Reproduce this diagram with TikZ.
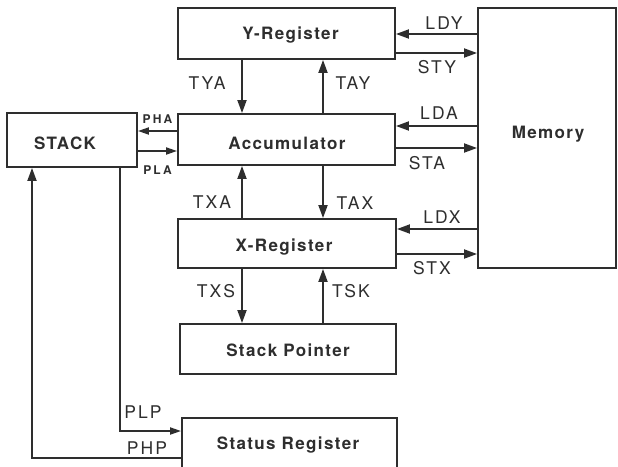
\documentclass[tikz,border=0pt]{standalone}
\usepackage{fontspec}
\setmainfont{TeX Gyre Heros}
\newfontfamily\boxfont{TeX Gyre Heros}[LetterSpace=8]
\newfontfamily\lblfont{TeX Gyre Heros}[LetterSpace=12]
\newfontfamily\smlfont{TeX Gyre Heros}[LetterSpace=18]
\usetikzlibrary{arrows.meta}
\definecolor{ink}{HTML}{2E2E2E}
\tikzset{
  regbox/.style={draw=ink, line width=1.9pt, inner sep=0pt},
  boxtxt/.style={inner sep=0pt, text=ink, font=\boxfont\bfseries\fontsize{17}{17}\selectfont, text height=12.2pt, text depth=0pt},
  lbl/.style={inner sep=0pt, text=ink, font=\lblfont\fontsize{17.5}{17.5}\selectfont, text height=12.6pt, text depth=0pt},
  sml/.style={inner sep=0pt, text=ink, font=\smlfont\bfseries\fontsize{12}{12}\selectfont, text height=8.6pt, text depth=0pt},
  conn/.style={draw=ink, line width=1.9pt, -{Triangle[length=13pt,width=9pt]}},
  sconn/.style={draw=ink, line width=1.9pt, -{Triangle[length=11pt,width=7pt]}}
}
\begin{document}
\begin{tikzpicture}[x=1pt,y=-1pt]
\useasboundingbox (0,0) rectangle (618,466);
\clip (0,0) rectangle (618,466);
\fill[white] (0,0) rectangle (618,466);

% boxes
\node[regbox, minimum width=217pt, minimum height=51pt] (Y)  at (286.5,33.5) {};
\node[regbox, minimum width=217pt, minimum height=51pt] (A)  at (286.5,139.5) {};
\node[regbox, minimum width=218pt, minimum height=49pt] (X)  at (287,243.5) {};
\node[regbox, minimum width=216pt, minimum height=50pt] (SP) at (288,349) {};
\node[regbox, minimum width=215pt, minimum height=50pt] (SR) at (289.5,443) {};
\node[regbox, minimum width=130pt, minimum height=54pt] (S)  at (72,140) {};
\node[regbox, minimum width=138pt, minimum height=260pt] (M) at (547,138) {};

% box texts
\node[boxtxt] (Yt)  at (290.5,33) {Y-Register};
\node[boxtxt] (At)  at (287,143) {Accumulator};
\node[boxtxt] (Xt)  at (284,245) {X-Register};
\node[boxtxt] (SPt) at (288,350.5) {Stack Pointer};
\node[boxtxt] (SRt) at (288,443) {Status Register};
\node[boxtxt] (St)  at (65,143) {STACK};
\node[boxtxt] (Mt)  at (548,132) {Memory};

% helper coordinates
\coordinate (c1) at (242,0);
\coordinate (c2) at (323,0);
\coordinate (rLDY) at (0,34);
\coordinate (rSTY) at (0,53);
\coordinate (rLDA) at (0,126);
\coordinate (rSTA) at (0,148);
\coordinate (rLDX) at (0,229);
\coordinate (rSTX) at (0,254);
\coordinate (rPHA) at (0,131);
\coordinate (rPLA) at (0,151);
\coordinate (pl) at (120,431);
\coordinate (ph) at (32,458);

% vertical transfers
\draw[conn] (Y.south -| c1) -- (A.north -| c1);
\draw[conn] (A.north -| c2) -- (Y.south -| c2);
\draw[conn] (X.north -| c1) -- (A.south -| c1);
\draw[conn] (A.south -| c2) -- (X.north -| c2);
\draw[conn] (X.south -| c1) -- (SP.north -| c1);
\draw[conn] (SP.north -| c2) -- (X.south -| c2);

% memory transfers
\draw[conn] (M.west |- rLDY) -- (Y.east |- rLDY);
\draw[conn] (Y.east |- rSTY) -- (M.west |- rSTY);
\draw[conn] (M.west |- rLDA) -- (A.east |- rLDA);
\draw[conn] (A.east |- rSTA) -- (M.west |- rSTA);
\draw[conn] (M.west |- rLDX) -- (X.east |- rLDX);
\draw[conn] (X.east |- rSTX) -- (M.west |- rSTX);

% stack transfers
\draw[sconn] (A.west |- rPHA) -- (S.east |- rPHA);
\draw[sconn] (S.east |- rPLA) -- (A.west |- rPLA);
\draw[sconn] (S.south -| pl) |- (SR.west |- pl);
\draw[conn] (SR.west |- ph) -| (S.south -| ph);

% labels
\node[lbl] (lTYA) at (207,83) {TYA};
\node[lbl] (lTAY) at (353,83) {TAY};
\node[lbl] (lTXA) at (212,202) {TXA};
\node[lbl] (lTAX) at (355,203) {TAX};
\node[lbl] (lTXS) at (216,291) {TXS};
\node[lbl] (lTSK) at (351,291) {TSK};
\node[lbl] (lLDY) at (444,23) {LDY};
\node[lbl] (lSTY) at (437,67) {STY};
\node[lbl] (lLDA) at (439,113) {LDA};
\node[lbl] (lSTA) at (427,163) {STA};
\node[lbl] (lLDX) at (442,217) {LDX};
\node[lbl] (lSTX) at (432,268) {STX};
\node[lbl] (lPLP) at (143,412) {PLP};
\node[lbl] (lPHP) at (147,448) {PHP};
\node[sml] (lPHA) at (157.5,119) {PHA};
\node[sml] (lPLA) at (157.5,170) {PLA};
\end{tikzpicture}
\end{document}
